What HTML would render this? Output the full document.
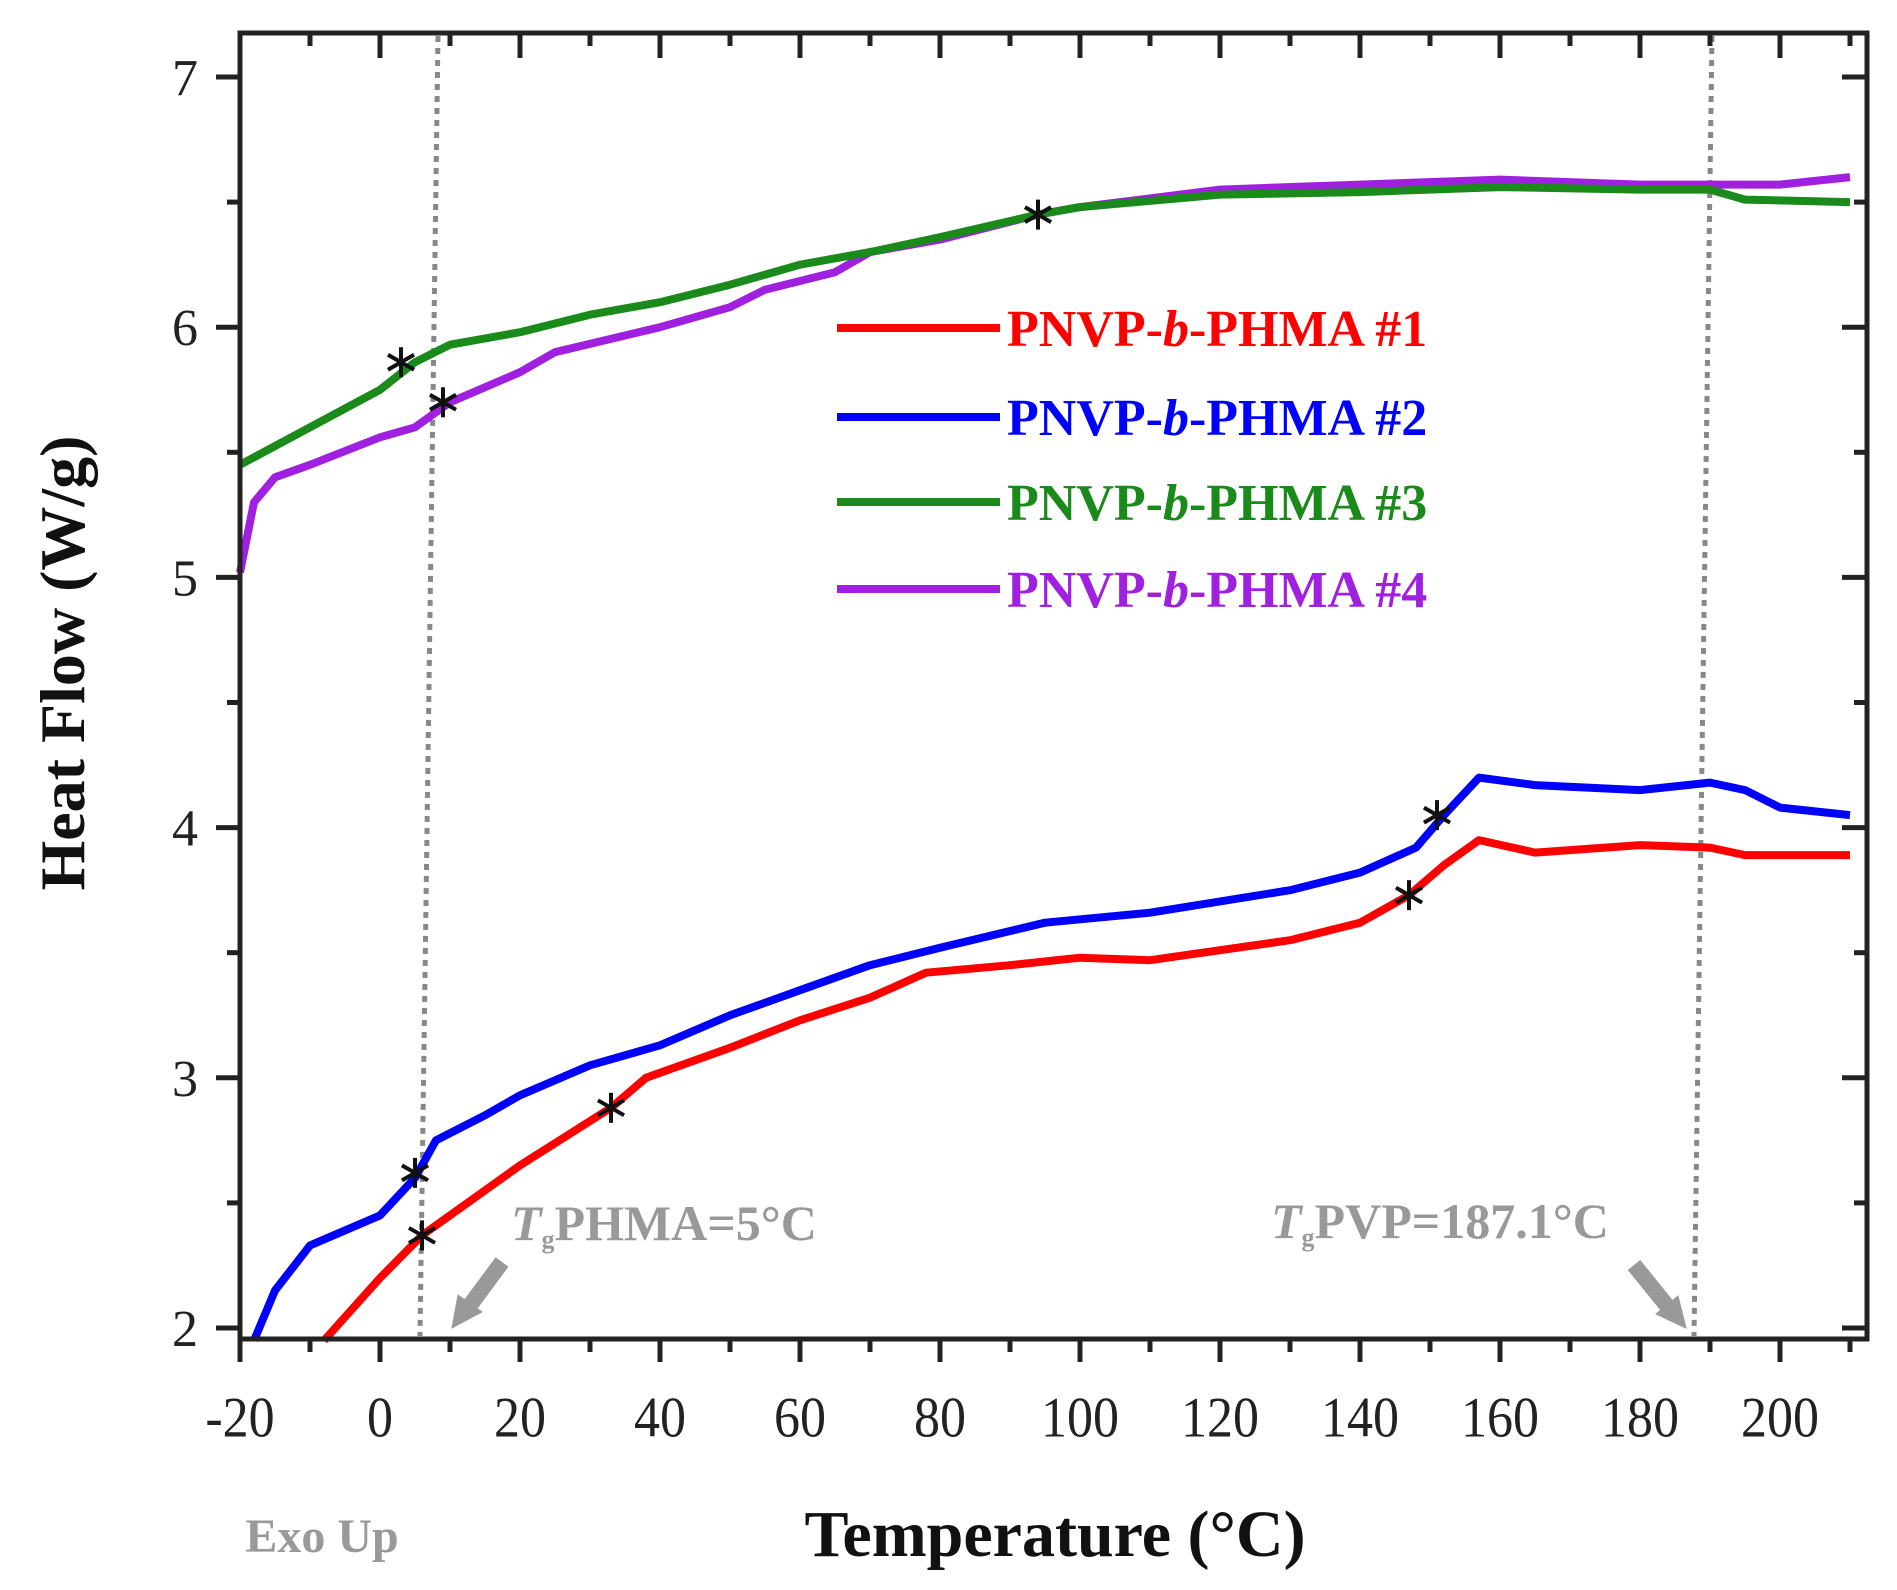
<!DOCTYPE html>
<html><head><meta charset="utf-8"><style>
html,body{margin:0;padding:0;background:#fff;}
svg{display:block;font-family:"Liberation Serif",serif;}
</style></head><body>
<svg id="chart" width="1897" height="1590" viewBox="0 0 1897 1590" xmlns="http://www.w3.org/2000/svg">
<g id="grid"></g>
<g id="series"></g>
<g id="marks"></g>
<rect x="240" y="33" width="1627" height="1306" fill="none" stroke="#222" stroke-width="5"/>
<g id="ticks"></g>
<text transform="translate(84,663) rotate(-90)" text-anchor="middle" font-size="64" font-weight="bold" fill="#111">Heat Flow (W/g)</text>
<text x="1055" y="1556" text-anchor="middle" font-size="66" font-weight="bold" fill="#111">Temperature (°C)</text>
<text x="322" y="1552" text-anchor="middle" font-size="48" font-weight="bold" fill="#999">Exo Up</text>
<text x="511" y="1240" font-size="50" font-weight="bold" fill="#999"><tspan font-style="italic">T</tspan><tspan font-size="26" dy="8">g</tspan><tspan dy="-8">PHMA=5°C</tspan></text>
<text x="1271" y="1238" font-size="50" font-weight="bold" fill="#999"><tspan font-style="italic">T</tspan><tspan font-size="26" dy="8">g</tspan><tspan dy="-8">PVP=187.1°C</tspan></text>
<g stroke="#999" fill="#999">
<line x1="502" y1="1262" x2="468" y2="1308" stroke-width="16"/>
<polygon points="452,1328 458,1295 482,1312"/>
</g>
<g stroke="#999" fill="#999">
<line x1="1634" y1="1265" x2="1668" y2="1307" stroke-width="16"/>
<polygon points="1686,1328 1656,1314 1678,1296"/>
</g>
<g id="legend"></g>
</svg>
<script>
const xTicks=[-20,0,20,40,60,80,100,120,140,160,180,200];
const yTicks=[2,3,4,5,6,7];
const seriesNames=["PNVP-b-PHMA #1","PNVP-b-PHMA #2","PNVP-b-PHMA #3","PNVP-b-PHMA #4"];
const seriesColors=["#ff0000","#0000ff","#1a8a1a","#a020e0"];
const s1x=[-8,0,6,10,20,33,38,50,60,70,78,90,100,110,130,140,147,152,157,165,180,190,195,210];
const s1y=[1.95,2.2,2.37,2.45,2.65,2.88,3.0,3.12,3.23,3.32,3.42,3.45,3.48,3.47,3.55,3.62,3.73,3.85,3.95,3.9,3.93,3.92,3.89,3.89];
const s2x=[-18,-15,-10,0,5,8,15,20,30,40,50,60,70,80,95,110,130,140,148,152,157,165,180,190,195,200,210];
const s2y=[1.95,2.15,2.33,2.45,2.6,2.75,2.85,2.93,3.05,3.13,3.25,3.35,3.45,3.52,3.62,3.66,3.75,3.82,3.92,4.05,4.2,4.17,4.15,4.18,4.15,4.08,4.05];
const s3x=[-20,0,5,10,20,30,40,50,60,70,80,94,100,120,140,160,180,190,195,210];
const s3y=[5.45,5.75,5.86,5.93,5.98,6.05,6.1,6.17,6.25,6.3,6.36,6.45,6.48,6.53,6.54,6.56,6.55,6.55,6.51,6.5];
const s4x=[-20,-18,-15,-10,0,5,10,20,25,40,50,55,65,70,80,94,100,120,140,160,180,200,210];
const s4y=[5.02,5.3,5.4,5.45,5.56,5.6,5.7,5.82,5.9,6.0,6.08,6.15,6.22,6.3,6.35,6.45,6.48,6.55,6.57,6.59,6.57,6.57,6.6];
const starX=[3,9,94,5,6,33,147,151];
const starY=[5.86,5.7,6.45,2.62,2.37,2.88,3.73,4.05];
const tgX=[7,189];

const NS="http://www.w3.org/2000/svg";
const X0=240,Y0=1328;
function sx(v){return X0+(v+20)*7;}
function sy(v){return Y0-(v-2)*250.2;}
function mk(tag,attrs,parent){const e=document.createElementNS(NS,tag);for(const k in attrs)e.setAttribute(k,attrs[k]);parent.appendChild(e);return e;}
const grid=document.getElementById('grid'),ser=document.getElementById('series'),marks=document.getElementById('marks'),ticks=document.getElementById('ticks'),leg=document.getElementById('legend');

tgX.forEach((t,i)=>{
  const l=mk('line',{x1:sx(t)+9,y1:36,x2:sx(t)-9,y2:1336,stroke:'#888','stroke-width':5,'stroke-dasharray':'6 6'},grid);
  
  
});

const allX=[s1x,s2x,s3x,s4x],allY=[s1y,s2y,s3y,s4y];
[3,2,1,0].forEach(i=>{
  const d=allX[i].map((x,j)=>(j?'L':'M')+sx(x).toFixed(1)+','+sy(allY[i][j]).toFixed(1)).join(' ');
  const p=mk('path',{d:d,fill:'none',stroke:seriesColors[i],'stroke-width':8,'stroke-linejoin':'round'},ser);
  
  
});

starX.forEach((x,i)=>{
  const cx=sx(x),cy=sy(starY[i]),r=15;
  const g=mk('g',{stroke:'#111','stroke-width':4},marks);
  
  
  mk('line',{x1:cx,y1:cy-r,x2:cx,y2:cy+r},g);
  mk('line',{x1:cx-r*0.87,y1:cy-r/2,x2:cx+r*0.87,y2:cy+r/2},g);
  mk('line',{x1:cx-r*0.87,y1:cy+r/2,x2:cx+r*0.87,y2:cy-r/2},g);
});

xTicks.forEach(v=>{
  const x=sx(v);
  mk('line',{x1:x,y1:1339,x2:x,y2:1362,stroke:'#222','stroke-width':5},ticks);
  mk('line',{x1:x,y1:33,x2:x,y2:58,stroke:'#222','stroke-width':5},ticks);
  const m=sx(v+10);
  if(v+10<=212){mk('line',{x1:m,y1:1339,x2:m,y2:1352,stroke:'#222','stroke-width':5},ticks);mk('line',{x1:m,y1:33,x2:m,y2:46,stroke:'#222','stroke-width':5},ticks);}
  const t=mk('text',{x:x,y:1436,'text-anchor':'middle','font-size':52,fill:'#222',transform:'translate(0,-143) scale(1,1.1)'},ticks);
  t.textContent=v;
  
  
});
yTicks.forEach(v=>{
  const y=sy(v);
  mk('line',{x1:216,y1:y,x2:240,y2:y,stroke:'#222','stroke-width':5},ticks);
  mk('line',{x1:1842,y1:y,x2:1867,y2:y,stroke:'#222','stroke-width':5},ticks);
  const m=sy(v+0.5);
  if(v<7){mk('line',{x1:227,y1:m,x2:240,y2:m,stroke:'#222','stroke-width':5},ticks);mk('line',{x1:1854,y1:m,x2:1867,y2:m,stroke:'#222','stroke-width':5},ticks);}
  const t=mk('text',{x:198,y:y+18,'text-anchor':'end','font-size':52,fill:'#222'},ticks);
  t.textContent=v;
  
  
});

const legY=[328,417,502,589];
seriesNames.forEach((n,i)=>{
  const g=mk('g',{},leg);
  
  
  mk('line',{x1:837,y1:legY[i],x2:1000,y2:legY[i],stroke:seriesColors[i],'stroke-width':8},g);
  const t=mk('text',{x:1007,y:legY[i]+18,'font-size':52,'font-weight':'bold',fill:seriesColors[i]},g);
  const parts=n.split('-b-');
  t.appendChild(document.createTextNode(parts[0]+'-'));
  const it=mk('tspan',{'font-style':'italic'},t);it.textContent='b';
  t.appendChild(document.createTextNode('-'+parts[1]));
});
</script>
</body></html>
